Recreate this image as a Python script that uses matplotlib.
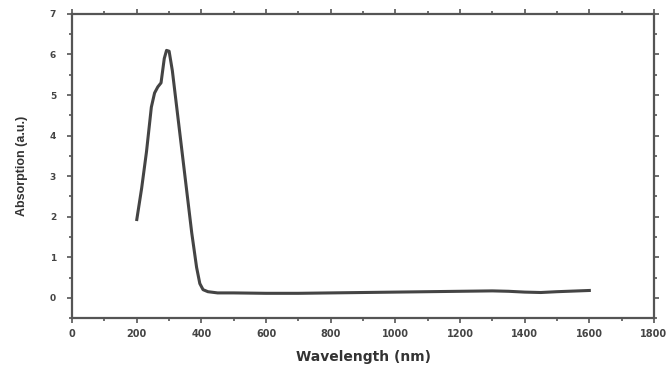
import matplotlib
matplotlib.use("Agg")
import matplotlib.pyplot as plt
import numpy as np
from matplotlib.ticker import MultipleLocator

wavelength = [200, 215, 230, 245, 255, 265, 275, 285, 292, 300, 310, 325, 340, 355, 370, 385, 395, 405, 420, 450, 500, 600, 700, 800, 900, 1000, 1100, 1200, 1300, 1350, 1400, 1450, 1500, 1600]
absorption = [1.93, 2.7, 3.6, 4.7, 5.05, 5.2, 5.3, 5.9, 6.1, 6.08, 5.6, 4.6, 3.6, 2.6, 1.6, 0.75, 0.35, 0.2, 0.15, 0.12, 0.12, 0.11, 0.11, 0.12, 0.13, 0.14, 0.15, 0.16, 0.17, 0.16, 0.14, 0.13, 0.15, 0.18]

plt.rcParams['font.family'] = ['DejaVu Sans']
fig = plt.figure(figsize=(6.68, 3.66), dpi=100)
ax = fig.add_axes([0.108, 0.131, 0.871, 0.831])
ax.plot(wavelength, absorption, color='#444444', lw=2.2)
ax.set_xlim(0, 1800)
ax.set_ylim(-0.5, 7)
ax.xaxis.set_major_locator(MultipleLocator(200))
ax.xaxis.set_minor_locator(MultipleLocator(100))
ax.yaxis.set_major_locator(MultipleLocator(1))
ax.yaxis.set_minor_locator(MultipleLocator(0.5))
ax.tick_params(which='both', direction='out', top=True, right=True, width=1.2, color='#555555')
ax.tick_params(which='major', length=3.6)
ax.tick_params(axis='x', which='major', labelsize=7, pad=4.5)
ax.tick_params(axis='y', which='major', labelsize=6.5, pad=8)
ax.tick_params(which='minor', length=2.2)
for lab in ax.get_xticklabels() + ax.get_yticklabels():
    lab.set_fontweight('bold')
    lab.set_color('#444444')
for s in ax.spines.values():
    s.set_linewidth(1.6)
    s.set_color('#555555')
ax.set_xlabel('Wavelength (nm)', fontsize=10, fontweight='bold', color='#333333')
ax.set_ylabel('Absorption (a.u.)', fontsize=9, fontweight='bold', color='#333333',
              family='Liberation Sans')
ax.xaxis.set_label_coords(0.5, -0.128)
ax.yaxis.set_label_coords(-0.086, 0.5)
ax.xaxis.label.set_va('center')
ax.yaxis.label.set_va('center')
fig.savefig('out.png', dpi=100)
